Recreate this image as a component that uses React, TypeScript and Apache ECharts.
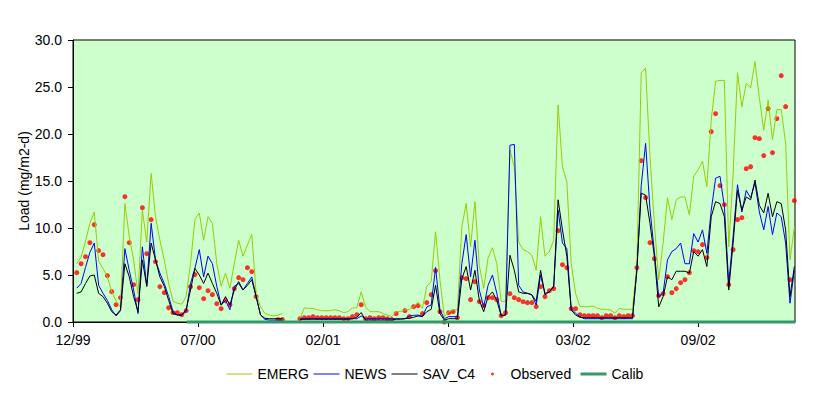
import React, { useEffect, useRef } from "react";
import * as echarts from "echarts";

// x positions are days after 12/31/1999; samples are weekly
const firstSampleDay = 6;
const sampleStepDays = 7;
const tickDays = [0, 200, 400, 600, 800, 1000];
const tickLabels = ["12/99", "07/00", "02/01", "08/01", "03/02", "09/02"];
const calibDays = [182, 1155];
const calibValues = [0, 0];

const emerg = [
  6.2, 6.9, 8.6, 10.5, 11.7, 6.5, 5.7, 4.8, 3.2, 2.2,
  1.6, 12.6, 9.1, 6.6, 3.0, 11.9, 8.5, 15.8, 11.2, 8.7,
  6.6, 4.1, 2.2, 2.0, 1.9, 2.7, 6.2, 10.9, 11.6, 8.7,
  11.2, 10.5, 6.2, 3.8, 5.2, 3.6, 6.2, 8.7, 7.0, 8.2,
  9.3, 3.0, 1.6, 0.9, 0.74, 0.64, 0.74, 0.9, null, null,
  null, 0.35, 1.5, 1.45, 1.45, 1.3, 1.2, 1.2, 1.2, 1.3,
  1.2, 1.0, 1.1, 1.5, 1.5, 3.2, 1.6, 1.1, 1.1, 1.1,
  0.9, 0.74, 0.57, 1.1, 1.1, 1.3, 1.3, 1.6, 2.1, 1.45,
  3.8, 4.3, 9.6, 4.5, 0.57, 1.1, 1.3, 1.3, 10.1, 12.6,
  8.0, 12.8, 6.0, 3.6, 6.8, 7.9, 6.2, 2.2, 2.2, 18.3,
  16.5, 8.5, 7.7, 7.5, 7.1, 5.5, 11.2, 7.0, 7.5, 8.7,
  23.1, 16.5, 14.9, 6.2, 3.05, 1.63, 1.63, 1.63, 1.7, 1.45,
  1.35, 1.35, 1.28, 0.92, 1.45, 1.35, 1.35, 1.35, 6.0, 26.5,
  27.0, 17.6, 10.5, 4.5, 8.4, 13.2, 10.9, 13.0, 13.3, 13.3,
  11.4, 15.5, 16.2, 17.1, 14.4, 21.5, 25.6, 25.7, 25.7, 8.0,
  15.8, 26.5, 22.9, 25.4, 24.9, 27.7, 23.8, 20.4, 23.6, 19.4,
  22.6, 22.6, 19.0, 6.6, 10.1,
];

const news = [
  3.6, 4.1, 5.8, 7.4, 8.4, 3.9, 3.05, 2.3, 1.3, 0.64,
  1.2, 7.8, 5.5, 3.4, 0.9, 8.0, 3.8, 10.5, 6.6, 5.2,
  4.1, 2.7, 1.1, 0.74, 0.74, 1.1, 4.1, 5.7, 7.7, 4.8,
  7.0, 6.2, 3.8, 1.8, 2.3, 1.3, 3.8, 4.1, 3.4, 4.1,
  4.8, 2.7, 0.74, 0.28, 0.2, 0.2, 0.2, 0.2, null, null,
  null, 0.3, 0.35, 0.35, 0.35, 0.35, 0.35, 0.35, 0.35, 0.35,
  0.35, 0.35, 0.35, 0.35, 0.35, 0.64, 0.35, 0.35, 0.35, 0.35,
  0.35, 0.35, 0.35, 0.35, 0.35, 0.35, 0.64, 0.7, 0.74, 0.57,
  1.6, 1.8, 5.8, 1.28, 0.35, 0.57, 0.57, 0.57, 6.2, 9.3,
  4.8, 8.7, 3.4, 1.6, 3.9, 5.0, 3.05, 0.67, 0.74, 18.8,
  18.9, 3.9, 3.2, 3.05, 2.9, 1.8, 5.0, 3.05, 3.2, 3.76,
  11.9, 8.4, 7.8, 1.45, 0.92, 0.57, 0.35, 0.35, 0.35, 0.35,
  0.35, 0.35, 0.35, 0.35, 0.35, 0.35, 0.35, 0.35, 5.5, 14.5,
  19.0, 12.0, 7.5, 2.7, 3.05, 6.6, 7.5, 7.8, 8.4, 6.2,
  6.2, 9.4, 8.5, 9.8, 7.3, 11.9, 15.3, 15.5, 12.3, 4.1,
  9.1, 14.6, 11.7, 14.0, 13.2, 14.8, 11.7, 9.8, 12.3, 9.3,
  11.6, 11.2, 8.4, 2.0, 5.5,
];

const savC4 = [
  3.05, 3.2, 4.1, 4.9, 5.0, 3.05, 2.7, 2.0, 1.1, 0.74,
  1.3, 6.2, 4.8, 2.7, 1.1, 6.6, 3.8, 8.4, 6.6, 4.8,
  3.8, 2.3, 0.9, 0.74, 0.74, 1.3, 3.4, 5.7, 5.0, 4.1,
  5.2, 4.1, 3.05, 1.8, 2.7, 1.8, 3.4, 4.3, 3.4, 3.9,
  4.5, 2.7, 0.74, 0.4, 0.35, 0.35, 0.35, 0.35, null, null,
  null, 0.3, 0.3, 0.3, 0.3, 0.3, 0.3, 0.3, 0.3, 0.3,
  0.3, 0.3, 0.3, 0.35, 0.5, 1.0, 0.2, 0.2, 0.2, 0.2,
  0.2, 0.2, 0.2, 0.3, 0.3, 0.35, 0.4, 0.5, 0.64, 0.6,
  1.1, 1.35, 3.9, 0.9, 0.2, 0.35, 0.35, 0.35, 4.6, 5.9,
  3.4, 5.5, 2.3, 1.1, 2.7, 3.2, 2.3, 0.67, 0.74, 7.1,
  5.5, 3.2, 3.05, 3.05, 2.9, 2.2, 5.5, 2.9, 3.2, 3.8,
  13.0, 9.8, 7.0, 1.28, 0.74, 0.5, 0.45, 0.45, 0.45, 0.45,
  0.45, 0.45, 0.45, 0.45, 0.45, 0.45, 0.45, 0.45, 5.5, 13.7,
  13.5, 10.5, 7.0, 1.6, 2.7, 4.8, 4.5, 5.4, 5.4, 5.4,
  5.2, 7.5, 7.0, 7.7, 5.9, 11.2, 12.8, 12.6, 11.2, 3.4,
  8.4, 14.0, 11.9, 13.3, 13.0, 15.1, 12.4, 11.6, 13.7, 11.2,
  12.8, 12.6, 9.8, 2.7, 5.9,
];

const observed = [
  5.25, 6.2, 6.95, 8.44, 10.35, 7.6, 7.16, 4.93, 3.23, 1.84,
  2.59, 13.33, 8.44, 3.97, 2.38, 12.16, 7.27, 10.89, 6.42, 3.76,
  3.12, 1.52, 0.99, 0.99, 0.78, 1.21, 3.76, 5.04, 3.65, 2.48,
  3.33, 2.91, 1.95, 1.42, 2.27, 1.84, 3.55, 4.72, 4.5, 5.78,
  5.35, 2.7, null, null, null, null, 0.25, 0.25, null, null,
  null, 0.35, 0.46, 0.46, 0.57, 0.46, 0.46, 0.46, 0.46, 0.46,
  0.46, 0.35, 0.35, 0.57, 0.78, 1.84, 0.35, 0.46, 0.35, 0.46,
  0.46, 0.35, 0.25, 0.89, null, 1.21, 0.57, 1.63, 1.74, 0.89,
  2.06, 2.91, 5.46, 1.1, 0.0, 0.99, 1.1, 0.46, 4.72, 4.61,
  2.38, 4.29, 2.16, 1.74, 2.59, 2.59, 2.38, 0.67, 0.99, 3.01,
  2.59, 2.38, 2.16, 2.06, 2.06, 1.63, 3.76, 2.7, 3.33, 3.55,
  9.72, 6.1, 5.78, 1.42, 1.42, 0.78, 0.67, 0.67, 0.67, 0.67,
  0.46, 0.67, 0.67, 0.46, 0.67, 0.57, 0.67, 0.67, 5.78, 17.16,
  13.23, 8.44, 6.74, 2.8, 3.01, 4.82, 3.12, 3.55, 4.18, 4.5,
  5.25, 7.59, 7.48, 8.23, 6.84, 20.25, 22.16, 14.5, 12.48, 3.97,
  7.7, 10.89, 11.1, 16.31, 16.52, 19.61, 19.5, 17.7, 22.7, 18.01,
  21.63, 26.21, 22.91, 4.5, 12.91,
];

const FONT = '"Liberation Sans", Arial, Helvetica, sans-serif';

function toPairs(values: (number | null)[]) {
  return values.map((v, k) => [firstSampleDay + sampleStepDays * k, v === null ? "-" : v]);
}

export default function App() {
  const ref = useRef<HTMLDivElement>(null);

  useEffect(() => {
    if (!ref.current) return;
    const chart = echarts.init(ref.current, null, { renderer: "svg" });
    const lineSeries = (name: string, values: (number | null)[], color: string) => ({
      name,
      type: "line",
      data: toPairs(values),
      symbol: "none",
      showSymbol: false,
      connectNulls: false,
      lineStyle: { color, width: 1 },
      itemStyle: { color },
    });
    const obsData = observed
      .map((v, k) => [firstSampleDay + sampleStepDays * k, v])
      .filter((p) => p[1] !== null);

    const legendText = { fontFamily: FONT, fontSize: 14, color: "#000" };
    const legendItem = (left: number, item: any, itemHeight = 5) => ({
      left,
      top: 367,
      padding: 0,
      itemWidth: 26,
      itemHeight,
      textStyle: legendText,
      data: [item],
    });

    chart.setOption({
      animation: false,
      backgroundColor: "#ffffff",
      textStyle: { fontFamily: FONT, color: "#000" },
      grid: {
        left: 73,
        top: 40,
        width: 722,
        height: 282,
        show: true,
        backgroundColor: "#CCFFCC",
        borderColor: "#000",
        borderWidth: 1,
      },
      legend: [
        legendItem(226, { name: "EMERG", itemStyle: { opacity: 0 }, lineStyle: { width: 1, color: "#99CC00" } }),
        legendItem(313, { name: "NEWS", itemStyle: { opacity: 0 }, lineStyle: { width: 1, color: "#0000FF" } }),
        legendItem(391, { name: "SAV_C4", itemStyle: { opacity: 0 }, lineStyle: { width: 1, color: "#000000" } }),
        legendItem(491, { name: "Observed", icon: "circle", itemStyle: { color: "#FF0000" } }, 3),
        legendItem(579, { name: "Calib", itemStyle: { opacity: 0 }, lineStyle: { width: 3, color: "#339966" } }),
      ],
      xAxis: {
        type: "value",
        min: 0,
        max: 1155,
        interval: 200,
        axisLine: { lineStyle: { color: "#000", width: 1 } },
        axisTick: { show: true, length: 5, lineStyle: { color: "#000" }, customValues: tickDays },
        axisLabel: {
          customValues: tickDays,
          margin: 11,
          fontFamily: FONT,
          fontSize: 14,
          color: "#000",
          formatter: (v: number) => {
            const i = tickDays.indexOf(v);
            return i >= 0 ? tickLabels[i] : "";
          },
        },
        splitLine: { show: false },
      },
      yAxis: {
        type: "value",
        min: 0,
        max: 30,
        interval: 5,
        name: "Load (mg/m2-d)",
        nameLocation: "middle",
        nameGap: 42,
        nameRotate: 90,
        nameMoveOverlap: false,
        nameTextStyle: { fontFamily: FONT, fontSize: 14, color: "#000" },
        axisLine: { show: true, lineStyle: { color: "#000", width: 1 } },
        axisTick: { show: true, length: 5, lineStyle: { color: "#000" } },
        axisLabel: {
          margin: 11,
          fontFamily: FONT,
          fontSize: 14,
          color: "#000",
          formatter: (v: number) => v.toFixed(1),
        },
        splitLine: { show: false },
      },
      series: [
        lineSeries("EMERG", emerg, "#99CC00"),
        lineSeries("NEWS", news, "#0000FF"),
        lineSeries("SAV_C4", savC4, "#000000"),
        {
          name: "Observed",
          type: "scatter",
          data: obsData,
          symbol: "circle",
          symbolSize: 5,
          itemStyle: { color: "#FF0000" },
        },
        {
          name: "Calib",
          type: "line",
          data: calibDays.map((d, i) => [d, calibValues[i]]),
          symbol: "none",
          showSymbol: false,
          clip: false,
          lineStyle: { color: "#339966", width: 3 },
          itemStyle: { color: "#339966" },
        },
      ],
    });
    return () => chart.dispose();
  }, []);

  return (
    <div
      ref={ref}
      style={{ position: "fixed", left: 0, top: 0, width: 829, height: 396, background: "#fff" }}
    />
  );
}
